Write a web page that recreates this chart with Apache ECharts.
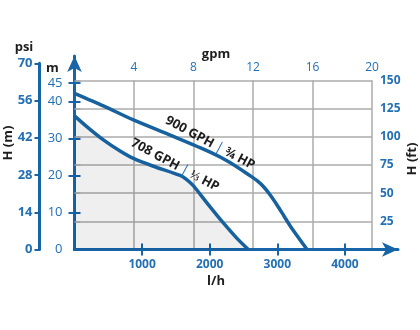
<!DOCTYPE html>
<html><head><meta charset="utf-8">
<script src="https://cdn.jsdelivr.net/npm/echarts@6/dist/echarts.min.js"></script>
<style>html,body{margin:0;padding:0;background:#fff}#c{width:420px;height:330px}</style>
</head><body><div id="c"></div>
<script>
// ---- data ----
const flow900 = [0, 427, 871, 1415, 2007, 2300, 2600, 2700, 2800, 2900, 3000, 3100, 3200, 3440]; // l/h
const head900 = [42.2, 38.8, 35.0, 30.9, 26.3, 23.5, 19.9, 18.6, 16.9, 14.6, 11.9, 9.0, 6.1, 0]; // m
const flow708 = [0, 181, 427, 674, 871, 1167, 1563, 1660, 1760, 1860, 1958, 2204, 2403, 2570];
const head708 = [36.1, 33.2, 29.6, 26.6, 24.6, 22.5, 20.0, 18.9, 17.2, 14.9, 12.6, 7.1, 3.0, 0];
const lhTicks = [1000, 2000, 3000, 4000];
const mTicks = [10, 20, 30, 40, 45];
const mLabels = [0, 10, 20, 30, 40, 45];
const label900 = ['900 GPH', '¾ HP'];
const label708 = ['708 GPH', '⅓ HP'];
const label900At = [2004, 28.8];
const label708At = [1486, 22.8];

// ---- style ----
const BLUE = '#1765a8', LBLUE = '#2470b5', CURVE = '#17619f', GRAY = '#ababab';
const FONT = 'Open Sans';
const LH_MAX = 4400, M_MAX = 45.72, FT_MAX = 150, GPM_MAX = 20;

const chart = echarts.init(document.getElementById('c'), null, {renderer: 'canvas'});
const toPair = (xs, ys) => xs.map((x, i) => [x, ys[i]]);
const rich = {
  a: {fontFamily: FONT, fontWeight: 'bold', fontSize: 13, color: '#1e1e1e'},
  b: {fontFamily: FONT, fontSize: 14, color: LBLUE, padding: [0, 3]}
};
const lbl = (txt, at) => ({
  symbol: 'circle', symbolSize: 0, silent: true,
  data: [{coord: at}],
  label: {show: true, position: 'inside', rotate: -28, formatter: '{a|' + txt[0] + '}{b||}{a|' + txt[1] + '}', rich}
});

const option = {
  animation: false,
  grid: [
    {left: 74.5, right: 48, top: 80.3, bottom: 80.5},
    {left: 74.5, right: 22, top: 56, bottom: 80.5},
    {left: 39.5, width: 1, top: 63.3, bottom: 80.5}
  ],
  xAxis: [
    {type: 'value', gridIndex: 0, position: 'bottom', min: 0, max: LH_MAX, interval: 1000,
     axisLine: {lineStyle: {color: BLUE, width: 3}},
     axisTick: {customValues: lhTicks, length: 6, lineStyle: {color: BLUE, width: 2}},
     axisLabel: {customValues: lhTicks, formatter: v => String(v), color: LBLUE, fontWeight: 'bold', fontSize: 12, fontFamily: FONT, margin: 9},
     splitLine: {show: false}},
    {type: 'value', gridIndex: 0, position: 'top', min: 0, max: GPM_MAX, interval: 4,
     axisLine: {lineStyle: {color: GRAY, width: 1.5}},
     axisTick: {show: false},
     axisLabel: {showMinLabel: false, color: LBLUE, fontSize: 12, fontFamily: FONT, margin: 7},
     splitLine: {show: true, lineStyle: {color: GRAY, width: 1.5}}},
    {type: 'value', gridIndex: 1, min: 0, max: LH_MAX * (398 - 74.5) / 297.5,
     axisLine: {symbol: ['none', 'arrow'], symbolSize: [11, 16], lineStyle: {color: BLUE, width: 3}},
     axisTick: {inside: true, customValues: lhTicks, length: 6, lineStyle: {color: BLUE, width: 2}},
     axisLabel: {show: false}, splitLine: {show: false}},
    {type: 'value', gridIndex: 2, show: false, min: 0, max: 1}
  ],
  yAxis: [
    {type: 'value', gridIndex: 0, position: 'left', min: 0, max: M_MAX,
     axisLine: {show: true, lineStyle: {color: BLUE, width: 3}},
     axisTick: {show: true, customValues: mTicks, length: 6, lineStyle: {color: BLUE, width: 2}},
     axisLabel: {customValues: mLabels, color: LBLUE, fontSize: 13, fontFamily: FONT, margin: 12},
     splitLine: {show: false}},
    {type: 'value', gridIndex: 0, position: 'right', min: 0, max: FT_MAX, interval: 25,
     axisLine: {show: true, lineStyle: {color: GRAY, width: 1.5}},
     axisTick: {show: true, length: 6, lineStyle: {color: GRAY, width: 1.5}},
     axisLabel: {showMinLabel: false, color: LBLUE, fontWeight: 'bold', fontSize: 12, fontFamily: FONT, margin: 8},
     splitLine: {show: true, lineStyle: {color: GRAY, width: 1.5}}},
    {type: 'value', gridIndex: 1, position: 'left', min: 0, max: M_MAX * (249.5 - 56) / 169.2,
     axisLine: {show: true, symbol: ['none', 'arrow'], symbolSize: [11, 16], lineStyle: {color: BLUE, width: 3}},
     axisTick: {show: true, inside: true, customValues: mTicks, length: 6, lineStyle: {color: BLUE, width: 2}},
     axisLabel: {show: false}, splitLine: {show: false}},
    {type: 'value', gridIndex: 2, position: 'left', min: 0, max: 70, interval: 14,
     axisLine: {show: true, lineStyle: {color: BLUE, width: 3}},
     axisTick: {show: true, length: 5, lineStyle: {color: BLUE, width: 2}},
     axisLabel: {color: LBLUE, fontWeight: 'bold', fontSize: 13, fontFamily: FONT, margin: 7},
     splitLine: {show: false}}
  ],
  series: [
    {type: 'line', xAxisIndex: 0, yAxisIndex: 0, data: toPair(flow708, head708), smooth: 0.25,
     symbol: 'none', lineStyle: {color: CURVE, width: 3.5}, areaStyle: {color: 'rgba(0,0,0,0.09)', origin: 'start'},
     markPoint: lbl(label708, label708At), z: 3},
    {type: 'line', xAxisIndex: 0, yAxisIndex: 0, data: toPair(flow900, head900), smooth: 0.25,
     symbol: 'none', lineStyle: {color: CURVE, width: 3.5},
     markPoint: lbl(label900, label900At), z: 3}
  ]
};
// axis titles as text
const titles = [
  {t: 'psi', x: 24, y: 47.5, r: 0},
  {t: 'm', x: 52.5, y: 68, r: 0},
  {t: 'H (m)', x: 8, y: 143, r: Math.PI / 2},
  {t: 'H (ft)', x: 412, y: 159, r: Math.PI / 2},
  {t: 'gpm', x: 216, y: 54, r: 0},
  {t: 'l/h', x: 216, y: 281, r: 0}
];
option.graphic = titles.map(o => ({
  type: 'text', x: o.x, y: o.y, rotation: o.r, z: 10,
  style: {text: o.t, font: 'bold 13px "Open Sans"', fill: '#1e1e1e', align: 'center', verticalAlign: 'middle'}
}));
chart.setOption(option);
</script></body></html>
